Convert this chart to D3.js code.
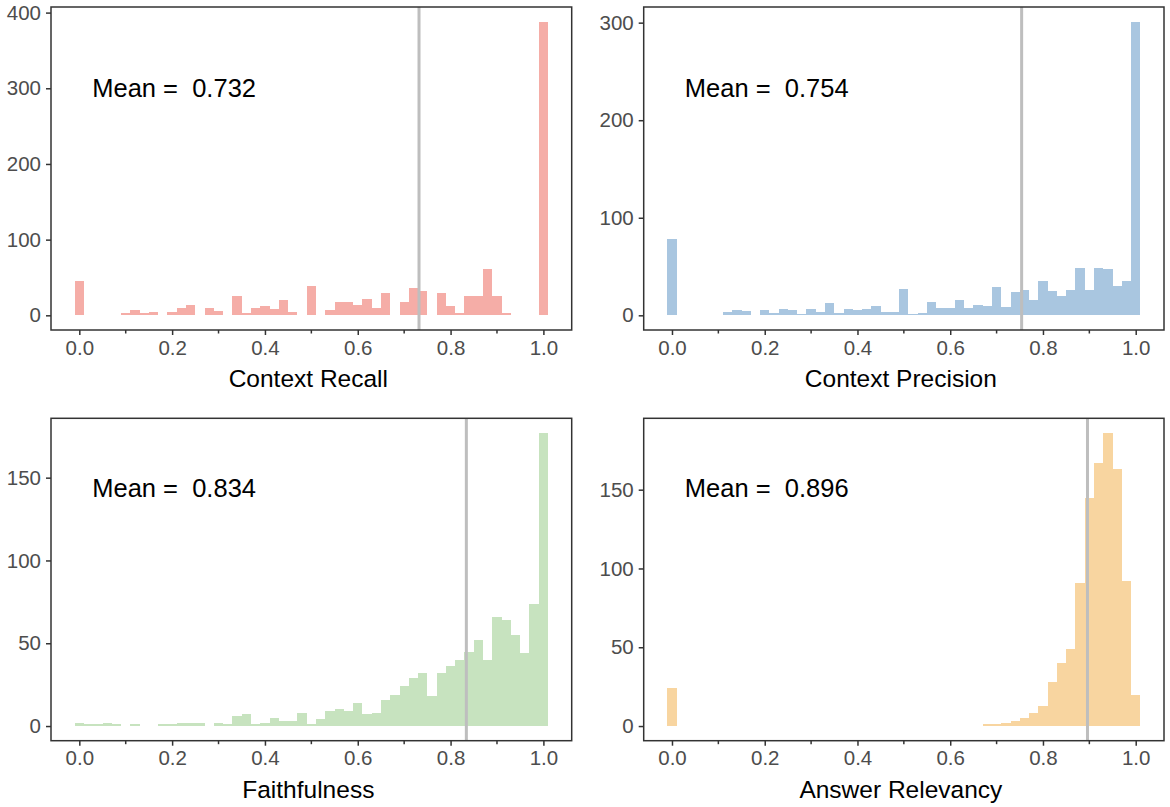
<!DOCTYPE html>
<html>
<head>
<meta charset="utf-8">
<script src="https://cdn.jsdelivr.net/npm/d3@7"></script>
<style>
  html, body { margin: 0; padding: 0; background: #ffffff; }
  svg { display: block; }
  text { font-family: "Liberation Sans", Arial, sans-serif; }
</style>
</head>
<body>
<svg id="chart" width="1170" height="807"></svg>
<script>
// Histogram counts, bins of width 0.02 centred on 0.00, 0.02, ..., 1.00
const contextRecall = [46,0,0,0,1,3,7,3,5,1,5,10,14,0,10,6,1,26,3,10,12,8,20,4,0,39,0,7,18,17,14,22,10,29,0,17,36,32,0,30,12,3,25,25,61,26,3,1,0,0,388];
const contextPrecision = [78,0,0,0,0,0,3,5,4,0,5,2,6,5,1,6,3,13,2,6,5,6,10,3,3,27,1,2,14,8,7,16,7,11,10,29,9,24,26,16,35,25,20,26,48,26,49,47,30,35,301];
const faithfulness = [2,1,1,2,1,0,1,0,0,1,1,2,2,2,0,2,1,6,7,1,2,5,3,3,8,1,4,9,10,9,14,7,8,16,19,24,29,32,18,32,36,40,45,52,40,66,64,55,44,74,177];
const answerRelevancy = [24,0,0,0,0,0,0,0,0,0,0,0,0,0,0,0,0,0,0,0,0,0,0,0,0,0,0,0,0,0,0,0,0,0,1,1,2,3,5,8,13,28,40,49,91,145,167,186,163,92,20];

const metricNames = ["Context Recall", "Context Precision", "Faithfulness", "Answer Relevancy"];
const metricMeans = [0.732, 0.754, 0.834, 0.896];
const metricColors = ["#F5ADA7", "#A9C6E0", "#C7E3BF", "#F8D5A0"];
const yTickValues = [[0,100,200,300,400],[0,100,200,300],[0,50,100,150],[0,50,100,150]];
const xMajorTicks = [0, 0.2, 0.4, 0.6, 0.8, 1.0];
const xMinorTicks = [0.1, 0.3, 0.5, 0.7, 0.9];

const series = [contextRecall, contextPrecision, faithfulness, answerRelevancy];
const binWidth = 0.02;

const svg = d3.select("#chart");

const panels = [
  {x0: 51,    x1: 571.7, y0: 7,     y1: 330,   labelDy: 90},
  {x0: 643.7, x1: 1164,  y0: 7,     y1: 330,   labelDy: 90},
  {x0: 51,    x1: 571.7, y0: 418.3, y1: 740.7, labelDy: 79},
  {x0: 643.7, x1: 1164,  y0: 418.3, y1: 740.7, labelDy: 79}
];

series.forEach((counts, i) => {
  const p = panels[i];
  const bins = counts.map((c, k) => ({lo: k * binWidth - binWidth / 2, hi: k * binWidth + binWidth / 2, c}));
  const xmin = bins[0].lo, xmax = bins[bins.length - 1].hi;
  const xr = xmax - xmin;
  const x = d3.scaleLinear().domain([xmin - 0.05 * xr, xmax + 0.05 * xr]).range([p.x0, p.x1]);
  const ymax = d3.max(counts);
  const y = d3.scaleLinear().domain([-0.05 * ymax, 1.05 * ymax]).range([p.y1, p.y0]);

  const g = svg.append("g");

  // bars
  g.append("g").selectAll("rect").data(bins.filter(b => b.c > 0)).join("rect")
    .attr("x", d => x(d.lo))
    .attr("width", d => x(d.hi) - x(d.lo))
    .attr("y", d => y(d.c))
    .attr("height", d => y(0) - y(d.c))
    .attr("fill", metricColors[i])
    .attr("shape-rendering", "crispEdges");

  // mean line
  g.append("line")
    .attr("x1", x(metricMeans[i])).attr("x2", x(metricMeans[i]))
    .attr("y1", p.y0).attr("y2", p.y1)
    .attr("stroke", "#BEBEBE").attr("stroke-width", 3);

  // panel border
  g.append("rect")
    .attr("x", p.x0).attr("y", p.y0)
    .attr("width", p.x1 - p.x0).attr("height", p.y1 - p.y0)
    .attr("fill", "none").attr("stroke", "#333333").attr("stroke-width", 1.5);

  // x axis major ticks + labels
  const xAxis = d3.axisBottom(x).tickValues(xMajorTicks).tickSize(5).tickPadding(5)
    .tickFormat(d3.format(".1f"));
  const gx = g.append("g").attr("transform", `translate(0,${p.y1})`).call(xAxis);
  gx.select(".domain").remove();
  gx.selectAll(".tick line").attr("stroke", "#333333").attr("stroke-width", 1.5);
  gx.selectAll(".tick text").attr("font-size", 20.5).attr("fill", "#4D4D4D")
    .attr("font-family", "'Liberation Sans', Arial, sans-serif");

  // x minor ticks
  g.append("g").selectAll("line").data(xMinorTicks).join("line")
    .attr("x1", d => x(d)).attr("x2", d => x(d))
    .attr("y1", p.y1).attr("y2", p.y1 + 3.5)
    .attr("stroke", "#333333").attr("stroke-width", 1.5);

  // y axis
  const yAxis = d3.axisLeft(y).tickValues(yTickValues[i]).tickSize(5).tickPadding(5);
  const gy = g.append("g").attr("transform", `translate(${p.x0},0)`).call(yAxis);
  gy.select(".domain").remove();
  gy.selectAll(".tick line").attr("stroke", "#333333").attr("stroke-width", 1.5);
  gy.selectAll(".tick text").attr("font-size", 20.5).attr("fill", "#4D4D4D")
    .attr("font-family", "'Liberation Sans', Arial, sans-serif");

  // axis title
  g.append("text")
    .attr("x", (p.x0 + p.x1) / 2 - 3)
    .attr("y", p.y1 + 57)
    .attr("text-anchor", "middle")
    .attr("font-size", 24.5)
    .attr("fill", "#000")
    .text(metricNames[i]);

  // mean annotation
  g.append("text")
    .attr("x", x(0.2) + 2)
    .attr("y", p.y0 + p.labelDy)
    .attr("text-anchor", "middle")
    .attr("font-size", 25.5)
    .attr("fill", "#000")
    .attr("xml:space", "preserve")
    .style("white-space", "pre")
    .text("Mean =  " + metricMeans[i].toFixed(3));
});
</script>
</body>
</html>
